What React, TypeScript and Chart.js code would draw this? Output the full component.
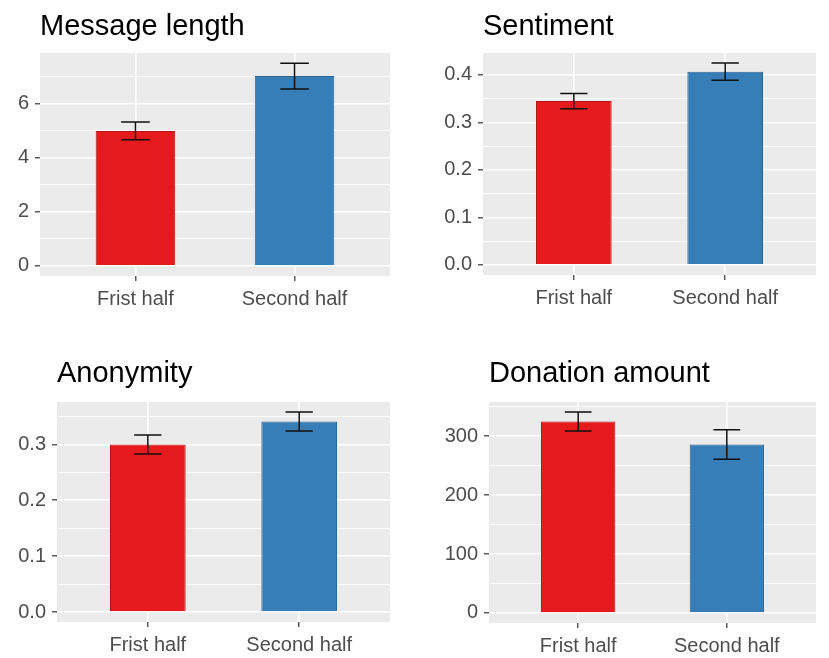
import { useEffect, useRef } from "react";
import { Chart, registerables } from "chart.js";
Chart.register(...registerables);

// data (bar = mean, err = half length of the error bar)
const categories = ["Frist half", "Second half"];

const messageLength = [5.0, 7.03];
const messageLengthErr = [0.33, 0.48];
const messageLengthTicks = [0, 2, 4, 6];
const messageLengthMinor = [1, 3, 5, 7];

const sentiment = [0.345, 0.407];
const sentimentErr = [0.016, 0.018];
const sentimentTicks = [0, 0.1, 0.2, 0.3, 0.4];
const sentimentMinor = [0.05, 0.15, 0.25, 0.35];

const anonymity = [0.3, 0.341];
const anonymityErr = [0.017, 0.017];
const anonymityTicks = [0, 0.1, 0.2, 0.3];
const anonymityMinor = [0.05, 0.15, 0.25, 0.35];

const donation = [325, 286];
const donationErr = [16, 25];
const donationTicks = [0, 100, 200, 300];
const donationMinor = [50, 150, 250, 350];

const barColors = ["#E41A1C", "#377EB8"];
const barBorders = ["#B3161A", "#2C6696"];
const FONT = "'Liberation Sans', Arial, sans-serif";

type PanelProps = {
  title: string;
  values: number[];
  errors: number[];
  ticks: number[];
  minor: number[];
  decimals: number;
  left: number;
  top: number;
  width: number;
  height: number;
  axisWidth: number;
  axisHeight: number;
  padRight: number;
  titleTop: number;
  titleBottom: number;
};

const Panel = (p: PanelProps) => {
  const canvasRef = useRef<HTMLCanvasElement>(null);
  const chartInstance = useRef<Chart | null>(null);

  useEffect(() => {
    const upper = Math.max(...p.values.map((v, i) => v + p.errors[i]));
    const allTicks = [...p.ticks, ...p.minor].sort((a, b) => a - b);
    const isMajor = (v: number) => p.ticks.some((t) => Math.abs(t - v) < 1e-9);

    const panelBg = {
      id: "panelBg",
      beforeDraw: (chart: any) => {
        const { ctx, chartArea: a } = chart;
        ctx.save();
        ctx.fillStyle = "#EBEBEB";
        ctx.fillRect(a.left, a.top, a.right - a.left, a.bottom - a.top);
        ctx.restore();
      },
    };

    const errorBars = {
      id: "errorBars",
      afterDatasetsDraw: (chart: any) => {
        const { ctx } = chart;
        const x = chart.scales.x;
        const y = chart.scales.y;
        ctx.save();
        ctx.strokeStyle = "#111111";
        ctx.lineWidth = 1.5;
        p.values.forEach((v, i) => {
          const cx = x.getPixelForValue(i + 1);
          const half = x.getPixelForValue(i + 1 + 0.09) - cx;
          const hi = y.getPixelForValue(v + p.errors[i]);
          const lo = y.getPixelForValue(v - p.errors[i]);
          ctx.beginPath();
          ctx.moveTo(cx - half, hi);
          ctx.lineTo(cx + half, hi);
          ctx.moveTo(cx, hi);
          ctx.lineTo(cx, lo);
          ctx.moveTo(cx - half, lo);
          ctx.lineTo(cx + half, lo);
          ctx.stroke();
        });
        ctx.restore();
      },
    };

    chartInstance.current = new Chart(canvasRef.current!, {
      type: "bar",
      data: {
        datasets: [
          {
            data: p.values.map((v, i) => ({ x: i + 1, y: v })),
            backgroundColor: barColors,
            borderColor: barBorders,
            borderWidth: 1,
            categoryPercentage: 1,
            barPercentage: 0.5,
          },
        ],
      },
      options: {
        responsive: true,
        maintainAspectRatio: false,
        animation: false,
        layout: { padding: { top: 0, left: 0, bottom: 0, right: p.padRight } },
        plugins: {
          legend: { display: false },
          tooltip: { enabled: false },
          title: {
            display: true,
            text: p.title,
            align: "start",
            fullSize: false,
            color: "#000000",
            font: { family: FONT, size: 29, weight: "normal", lineHeight: 1 },
            padding: { top: p.titleTop, bottom: p.titleBottom },
          },
        },
        scales: {
          x: {
            type: "linear",
            min: 0.4,
            max: 2.6,
            offset: false,
            afterBuildTicks: (s: any) => {
              s.ticks = categories.map((_, i) => ({ value: i + 1 }));
            },
            afterFit: (s: any) => {
              s.height = p.axisHeight;
            },
            border: { display: false },
            grid: {
              offset: false,
              color: "#FFFFFF",
              lineWidth: 1.6,
              drawTicks: true,
              tickLength: 5,
              tickColor: "#333333",
              tickWidth: 1.2,
            },
            ticks: {
              autoSkip: false,
              maxRotation: 0,
              padding: 6,
              color: "#4D4D4D",
              font: { family: FONT, size: 20 },
              callback: (v: any) => categories[Math.round(Number(v)) - 1] ?? "",
            },
          },
          y: {
            type: "linear",
            min: -0.05 * upper,
            max: 1.05 * upper,
            afterBuildTicks: (s: any) => {
              s.ticks = allTicks.map((v) => ({ value: v }));
            },
            afterFit: (s: any) => {
              s.width = p.axisWidth;
            },
            border: { display: false },
            grid: {
              color: "#FFFFFF",
              lineWidth: (c: any) => (c.tick && isMajor(c.tick.value) ? 1.6 : 0.9),
              drawTicks: true,
              tickLength: 5,
              tickColor: (c: any) =>
                c.tick && isMajor(c.tick.value) ? "#333333" : "rgba(0,0,0,0)",
              tickWidth: 1.2,
            },
            ticks: {
              autoSkip: false,
              padding: 6,
              color: "#4D4D4D",
              font: { family: FONT, size: 20 },
              callback: (v: any) =>
                isMajor(Number(v)) ? Number(v).toFixed(p.decimals) : "",
            },
          },
        },
      },
      plugins: [panelBg, errorBars],
    } as any);

    return () => {
      if (chartInstance.current) {
        chartInstance.current.destroy();
        chartInstance.current = null;
      }
    };
  }, []);

  return (
    <div
      style={{
        position: "absolute",
        left: p.left,
        top: p.top,
        width: p.width,
        height: p.height,
      }}
    >
      <canvas ref={canvasRef} />
    </div>
  );
};

const App = () => {
  useEffect(() => {
    document.body.style.margin = "0";
  }, []);

  return (
    <div style={{ position: "relative", width: 829, height: 658, background: "#FFFFFF" }}>
      <Panel
        title="Message length"
        values={messageLength}
        errors={messageLengthErr}
        ticks={messageLengthTicks}
        minor={messageLengthMinor}
        decimals={0}
        left={0}
        top={0}
        width={400}
        height={320}
        axisWidth={40}
        axisHeight={44}
        padRight={10}
        titleTop={12}
        titleBottom={12}
      />
      <Panel
        title="Sentiment"
        values={sentiment}
        errors={sentimentErr}
        ticks={sentimentTicks}
        minor={sentimentMinor}
        decimals={1}
        left={420}
        top={0}
        width={409}
        height={320}
        axisWidth={63}
        axisHeight={45}
        padRight={13}
        titleTop={12}
        titleBottom={12}
      />
      <Panel
        title="Anonymity"
        values={anonymity}
        errors={anonymityErr}
        ticks={anonymityTicks}
        minor={anonymityMinor}
        decimals={1}
        left={0}
        top={345}
        width={400}
        height={313}
        axisWidth={57}
        axisHeight={36}
        padRight={10}
        titleTop={14}
        titleBottom={14}
      />
      <Panel
        title="Donation amount"
        values={donation}
        errors={donationErr}
        ticks={donationTicks}
        minor={donationMinor}
        decimals={0}
        left={420}
        top={345}
        width={409}
        height={313}
        axisWidth={69}
        axisHeight={35}
        padRight={13}
        titleTop={14}
        titleBottom={14}
      />
    </div>
  );
};

export default App;
